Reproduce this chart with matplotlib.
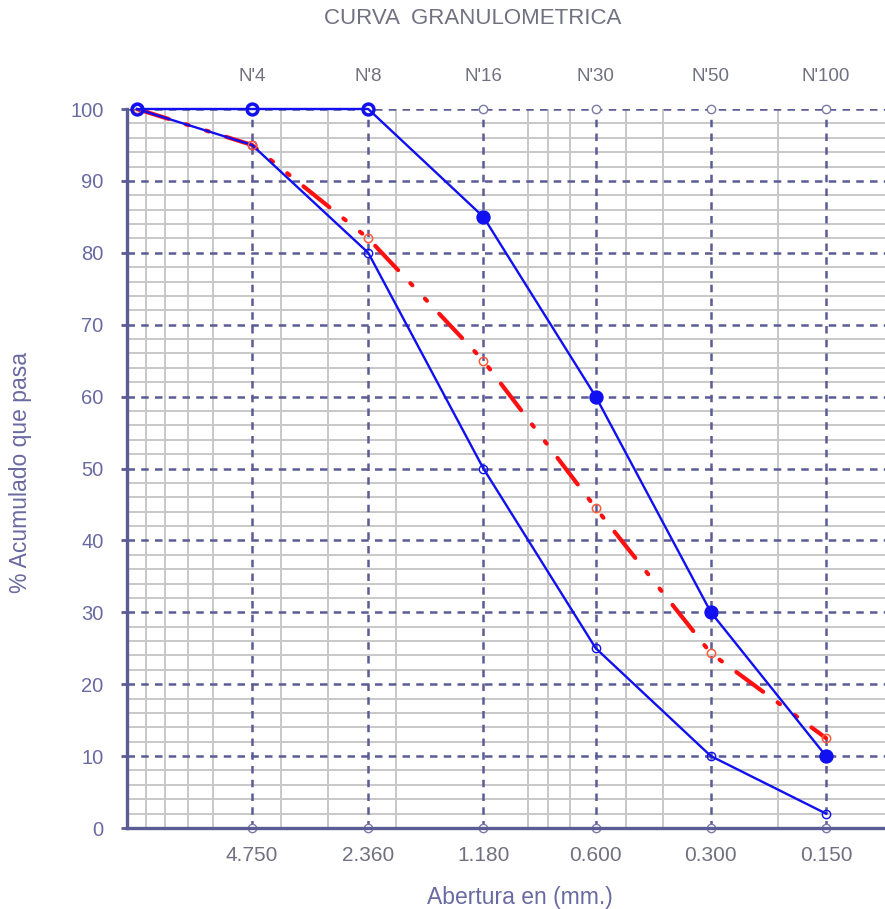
import matplotlib
matplotlib.use("Agg")
import matplotlib.pyplot as plt
from matplotlib.ticker import NullLocator, NullFormatter

# ---- data ----
sizes = [9.5, 4.75, 2.36, 1.18, 0.6, 0.3, 0.15]
upper_limit = [100, 100, 100, 85, 60, 30, 10]
lower_limit = [100, 95, 80, 50, 25, 10, 2]
sample = [100, 95, 82, 65, 44.5, 24.3, 12.5]

sieve_sizes = [4.75, 2.36, 1.18, 0.6, 0.3, 0.15]
sieve_names = ["N'4", "N'8", "N'16", "N'30", "N'50", "N'100"]
sieve_ticklabels = ["4.750", "2.360", "1.180", "0.600", "0.300", "0.150"]
minor_x = [9, 8, 7, 6, 4, 3, 2, 0.9, 0.8, 0.7, 0.5, 0.4, 0.2]
y_major = [0, 10, 20, 30, 40, 50, 60, 70, 80, 90, 100]
y_minor = [v for v in range(2, 100, 2) if v % 10 != 0]

# ---- style ----
plt.rcParams['font.family'] = ['Liberation Sans', 'DejaVu Sans']
axis_col = '#5b5b95'
label_col = '#6a6aa2'
gray_txt = '#707080'
minor_col = '#c8c8c8'

fig = plt.figure(figsize=(8.85, 9.09), dpi=100)
ax = fig.add_axes([127/885, 1-828/909, 1-127/885, (828-109)/909])

ax.set_xscale('log')
ax.set_xlim(10.08, 0.1052)
ax.set_ylim(0, 100)

# minor grid
for v in minor_x:
    ax.axvline(v, color=minor_col, lw=1.4, zorder=1)
for v in y_minor:
    ax.axhline(v, color=minor_col, lw=1.4, zorder=1)
# major dashed grid
for v in sieve_sizes:
    ax.axvline(v, color=axis_col, lw=1.8, ls=(0, (3, 2.5)), zorder=2)
for v in y_major[1:]:
    ax.axhline(v, color=axis_col, lw=1.8, ls=(0, (3, 2.5)), zorder=2)

# sieve markers at top and bottom
ax.plot(sieve_sizes, [100]*len(sieve_sizes), 'o', ms=6, mfc='white', mec='#7a7aa6',
        mew=1.0, ls='none', zorder=3, clip_on=False)
ax.plot(sieve_sizes, [0]*len(sieve_sizes), 'o', ms=6, mfc='white', mec='#7a7aa6',
        mew=1.0, ls='none', zorder=3, clip_on=False)

blue = '#1010f0'
# lower limit
ax.plot(sizes, lower_limit, '-', color=blue, lw=1.7, marker='o', ms=6,
        mfc='none', mec=blue, mew=1.0, zorder=5, clip_on=False)
# sample curve
ax.plot(sizes, sample, color='#ff0f0f', lw=3.0, dash_capstyle='round',
        ls=(0, (8, 4.3, 0.7, 4.4, 0.7, 4.3)), zorder=4)
ax.plot(sizes, sample, 'o', ms=6, mfc='none', mec='#ff5a3a', mew=1.1, zorder=6)
# upper limit
ax.plot(sizes, upper_limit, '-', color=blue, lw=1.7, marker='o', ms=8,
        mfc='none', mec=blue, mew=2.3, zorder=6, clip_on=False)
up_x = [s for s, u in zip(sizes, upper_limit) if u < 100]
up_y = [u for u in upper_limit if u < 100]
ax.plot(up_x, up_y, 'o', ms=8, mfc=blue, mec=blue, mew=1.5, ls='none', zorder=6)

# spines
for s in ['top', 'right']:
    ax.spines[s].set_visible(False)
for s in ['left', 'bottom']:
    ax.spines[s].set_color(axis_col)
    ax.spines[s].set_linewidth(2.4)
    ax.spines[s].set_zorder(7)

ax.set_yticks(y_major)
ax.set_yticklabels([str(v) for v in y_major])
ax.tick_params(axis='y', direction='out', length=4, width=2, color=axis_col,
               labelcolor=label_col, labelsize=14.5, pad=13)
ax.set_xticks(sieve_sizes)
ax.set_xticklabels(sieve_ticklabels)
ax.xaxis.set_minor_locator(NullLocator())
ax.xaxis.set_minor_formatter(NullFormatter())
ax.tick_params(axis='x', length=0, labelcolor=gray_txt, labelsize=15, pad=13)

sec = ax.secondary_xaxis('top')
sec.set_xticks(sieve_sizes)
sec.set_xticklabels(sieve_names)
sec.xaxis.set_minor_locator(NullLocator())
sec.xaxis.set_minor_formatter(NullFormatter())
sec.tick_params(axis='x', length=0, labelcolor=gray_txt, labelsize=13.5, pad=17)
sec.spines['top'].set_visible(False)

ax.set_ylabel('% Acumulado que pasa', color=label_col, fontsize=16.5)
ax.yaxis.set_label_coords(-0.125, 0.495)
ax.set_xlabel('Abertura en (mm.)', color=label_col, fontsize=16.5)
ax.xaxis.set_label_coords(0.518, -0.080)

fig.text(473/885, 1-19/909, 'CURVA  GRANULOMETRICA', color=gray_txt, fontsize=16,
         ha='center', va='center')

fig.savefig('out.png', dpi=100)
